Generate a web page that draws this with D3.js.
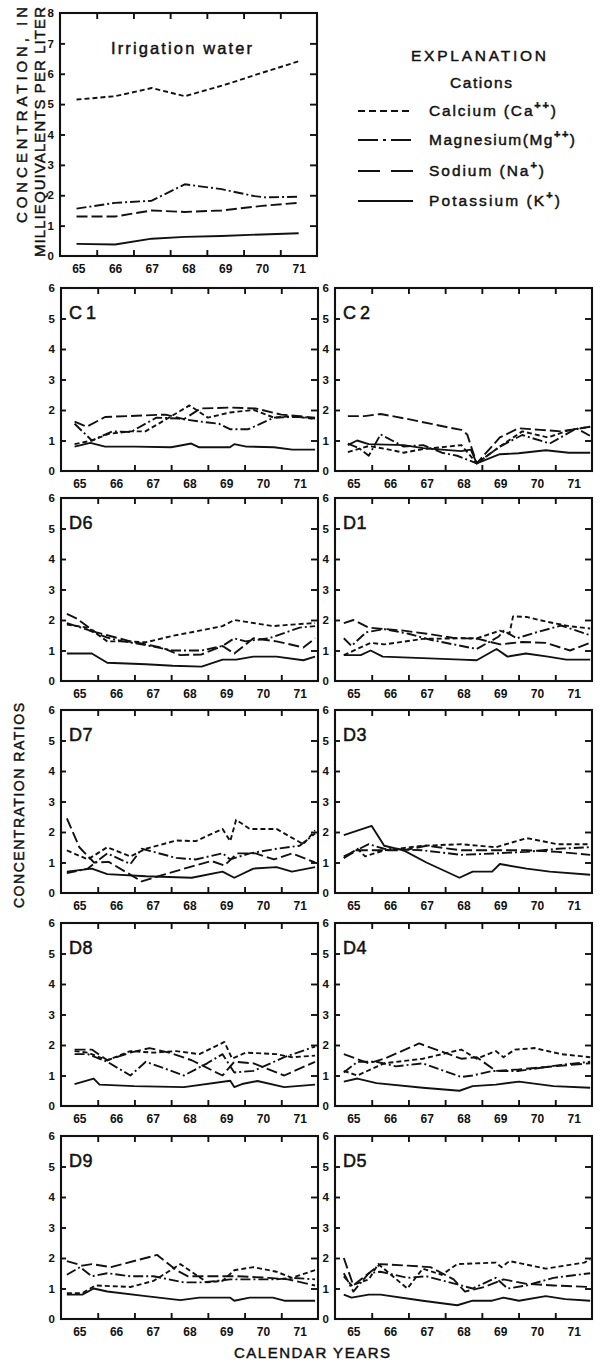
<!DOCTYPE html>
<html><head><meta charset="utf-8">
<script src="https://cdn.jsdelivr.net/npm/d3@7/dist/d3.min.js"></script>
<style>body{margin:0;background:#fff}svg{display:block}</style>
</head><body><svg id="c" width="600" height="1365"></svg>
<script>
// ---------------- DATA ----------------
const yearLabels = ["65","66","67","68","69","70","71"];
const cations = ["Calcium","Magnesium","Sodium","Potassium"];
const topTicks = [0,1,2,3,4,5,6,7,8];
const panelTicks = [0,1,2,3,4,5,6];
const panelNames = ["C1","C2","D6","D1","D7","D3","D8","D4","D9","D5"];

// Irrigation water (milliequivalents per liter)
const topCa = [[65.45,5.15],[66.5,5.26],[67.5,5.53],[68.4,5.26],[69.5,5.64],[70.5,6.03],[71.5,6.41]];
const topMg = [[65.45,1.56],[66.5,1.75],[67.5,1.82],[68.4,2.36],[69.4,2.2],[70.3,1.97],[70.6,1.93],[71.5,1.95]];
const topNa = [[65.45,1.3],[66.5,1.3],[67.5,1.5],[68.4,1.45],[69.4,1.5],[70.5,1.65],[71.5,1.75]];
const topK  = [[65.45,0.4],[66.5,0.38],[67.5,0.57],[68.4,0.63],[69.4,0.66],[70.5,0.71],[71.5,0.75]];

// Concentration ratios
const C1_Ca = [[65.37,0.88],[65.84,1.0],[66.3,1.22],[66.9,1.3],[67.3,1.3],[67.9,1.72],[68.5,2.15],[69.0,1.75],[69.6,1.92],[70.25,2.0],[70.8,1.75],[71.3,1.8],[71.92,1.7]];
const C1_Mg = [[65.37,1.55],[65.84,1.0],[66.4,1.3],[66.9,1.28],[67.6,1.75],[68.2,1.72],[68.8,1.62],[69.3,1.55],[69.6,1.37],[70.1,1.37],[70.8,1.75],[71.5,1.78],[71.92,1.72]];
const C1_Na = [[65.37,1.62],[65.7,1.45],[66.2,1.77],[67.2,1.82],[67.85,1.85],[68.35,1.7],[68.8,2.05],[69.6,2.08],[70.3,2.05],[71.0,1.85],[71.92,1.75]];
const C1_K  = [[65.37,0.8],[65.8,0.92],[66.2,0.8],[67.0,0.8],[68.0,0.78],[68.55,0.9],[68.75,0.78],[69.6,0.78],[69.72,0.88],[70.05,0.8],[70.8,0.78],[71.3,0.7],[71.92,0.7]];

const C2_Ca = [[65.35,0.62],[65.92,0.82],[66.4,0.72],[66.87,0.6],[67.4,0.72],[67.91,0.78],[68.44,0.85],[68.86,0.25],[69.49,0.8],[70.1,1.3],[70.8,1.1],[71.4,1.35],[71.95,1.45]];
const C2_Mg = [[65.35,0.9],[65.65,0.75],[65.92,0.5],[66.24,1.2],[66.87,0.8],[67.4,0.85],[67.91,0.6],[68.33,0.5],[68.86,0.25],[69.49,0.8],[70.1,1.18],[70.85,0.9],[71.58,1.4],[71.95,1.15]];
const C2_Na = [[65.35,1.8],[65.8,1.8],[66.24,1.87],[67.0,1.7],[68.0,1.45],[68.44,1.35],[68.6,1.2],[68.86,0.25],[69.49,1.1],[70.0,1.4],[70.6,1.35],[71.16,1.3],[71.95,1.45]];
const C2_K  = [[65.35,0.85],[65.6,1.0],[65.92,0.88],[66.87,0.85],[67.4,0.75],[67.91,0.7],[68.44,0.65],[68.7,0.7],[68.86,0.25],[69.49,0.55],[70.0,0.58],[70.74,0.68],[71.37,0.6],[71.95,0.6]];

const D6_Ca = [[65.16,1.85],[65.73,1.75],[66.26,1.3],[66.68,1.3],[67.31,1.27],[68.04,1.48],[68.56,1.6],[69.4,1.8],[69.72,2.0],[70.24,1.9],[70.77,1.8],[71.29,1.85],[71.92,1.9]];
const D6_Mg = [[65.16,1.9],[65.73,1.68],[66.26,1.42],[66.68,1.3],[67.31,1.18],[68.04,1.0],[68.83,1.0],[69.4,1.15],[69.72,1.4],[70.03,1.3],[70.66,1.4],[71.5,1.75],[71.92,1.8]];
const D6_Na = [[65.16,2.2],[65.42,2.05],[65.94,1.6],[66.26,1.5],[66.89,1.3],[67.73,1.1],[68.25,0.85],[68.83,0.87],[69.4,1.15],[69.72,0.9],[70.24,1.4],[70.87,1.3],[71.6,1.1],[71.92,1.4]];
const D6_K  = [[65.16,0.9],[65.84,0.9],[66.26,0.6],[67.31,0.55],[68.04,0.5],[68.83,0.47],[69.4,0.7],[69.77,0.7],[70.24,0.8],[70.87,0.8],[71.6,0.68],[71.92,0.8]];

const D1_Ca = [[65.24,0.85],[65.97,1.25],[66.34,1.2],[67.39,1.38],[68.44,1.4],[68.86,1.4],[69.49,1.65],[69.75,1.55],[69.85,2.12],[70.22,2.1],[70.74,1.95],[71.37,1.8],[71.95,1.72]];
const D1_Mg = [[65.24,1.4],[65.45,1.15],[65.85,1.6],[66.34,1.7],[67.0,1.55],[67.6,1.35],[68.86,1.05],[69.45,1.45],[69.6,1.65],[69.95,1.4],[70.5,1.6],[71.16,1.82],[71.95,1.5]];
const D1_Na = [[65.24,1.9],[65.5,2.0],[65.92,1.75],[66.87,1.65],[67.5,1.55],[68.2,1.42],[68.9,1.38],[69.5,1.2],[70.1,1.28],[70.74,1.25],[71.4,1.0],[71.95,1.25]];
const D1_K  = [[65.24,0.85],[65.7,0.85],[65.97,1.0],[66.3,0.8],[67.39,0.75],[68.44,0.7],[68.86,0.68],[69.4,1.05],[69.7,0.8],[70.2,0.9],[70.8,0.8],[71.3,0.7],[71.95,0.7]];

const D7_Ca = [[65.16,1.4],[65.73,1.1],[66.26,1.5],[66.89,1.2],[67.31,1.45],[68.14,1.72],[68.67,1.7],[69.4,2.1],[69.61,1.7],[69.77,2.4],[70.14,2.1],[70.87,2.1],[71.6,1.6],[71.92,2.05]];
const D7_Mg = [[65.16,0.65],[65.73,0.8],[66.26,1.3],[66.89,0.95],[67.2,1.45],[68.14,1.15],[68.67,1.1],[69.4,1.3],[69.61,1.1],[70.14,1.3],[70.87,1.45],[71.5,1.55],[71.92,1.95]];
const D7_Na = [[65.16,2.45],[65.5,1.5],[65.9,1.0],[66.3,1.02],[67.2,0.38],[67.8,0.6],[68.5,0.85],[69.1,1.05],[69.45,0.9],[69.8,1.3],[70.3,1.3],[70.8,1.1],[71.3,1.3],[71.92,1.0]];
const D7_K  = [[65.16,0.7],[65.84,0.8],[66.26,0.62],[67.31,0.55],[68.56,0.5],[69.4,0.7],[69.72,0.5],[70.24,0.8],[70.87,0.85],[71.29,0.7],[71.92,0.85]];

const D3_Ca = [[65.24,1.15],[65.61,1.45],[65.82,1.2],[66.34,1.4],[67.39,1.55],[68.44,1.6],[69.38,1.5],[70.22,1.8],[71.06,1.6],[71.95,1.6]];
const D3_Mg = [[65.24,1.2],[65.92,1.6],[66.34,1.45],[67.39,1.4],[68.44,1.25],[69.38,1.3],[70.22,1.35],[71.06,1.45],[71.95,1.5]];
const D3_Na = [[65.24,1.15],[65.61,1.4],[66.87,1.4],[67.49,1.55],[68.44,1.4],[69.38,1.4],[70.22,1.4],[71.06,1.35],[71.95,1.25]];
const D3_K  = [[65.24,1.9],[66.0,2.2],[66.34,1.55],[66.87,1.4],[67.49,1.0],[68.39,0.5],[68.75,0.7],[69.28,0.7],[69.49,0.95],[70.22,0.8],[70.85,0.7],[71.95,0.6]];

const D8_Ca = [[65.37,1.8],[65.73,1.75],[66.26,1.5],[66.89,1.8],[67.52,1.75],[68.14,1.8],[68.77,1.7],[69.45,2.1],[69.66,1.55],[70.03,1.75],[70.87,1.7],[71.29,1.6],[71.92,1.65]];
const D8_Mg = [[65.37,1.7],[65.73,1.7],[66.26,1.45],[66.89,1.0],[67.31,1.45],[68.35,1.0],[68.98,1.4],[69.4,1.7],[69.72,1.1],[70.24,1.15],[71.08,1.6],[71.92,1.95]];
const D8_Na = [[65.37,1.85],[65.84,1.85],[66.26,1.5],[66.89,1.75],[67.41,1.9],[67.94,1.75],[68.56,1.5],[69.4,1.0],[69.72,1.45],[70.24,1.4],[71.08,1.0],[71.92,1.45]];
const D8_K  = [[65.37,0.72],[65.89,0.9],[66.05,0.7],[66.99,0.65],[68.35,0.62],[69.61,0.83],[69.72,0.62],[69.93,0.72],[70.35,0.82],[71.08,0.62],[71.92,0.7]];

const D4_Ca = [[65.24,1.15],[65.61,1.0],[66.34,1.4],[67.39,1.55],[68.44,1.85],[68.86,1.55],[69.38,1.8],[69.59,1.6],[69.9,1.85],[70.43,1.9],[71.16,1.7],[71.95,1.6]];
const D4_Mg = [[65.24,1.1],[65.61,1.45],[66.13,1.45],[66.66,1.3],[67.39,1.4],[68.44,0.95],[68.75,1.0],[69.28,1.15],[70.01,1.15],[71.16,1.35],[71.95,1.45]];
const D4_Na = [[65.24,1.7],[65.92,1.4],[66.34,1.55],[67.29,2.05],[68.44,1.55],[68.86,1.6],[69.38,1.15],[70.01,1.2],[70.95,1.3],[71.95,1.4]];
const D4_K  = [[65.24,0.8],[65.61,0.9],[66.13,0.75],[67.39,0.6],[68.39,0.5],[68.75,0.65],[69.38,0.7],[70.01,0.8],[70.95,0.65],[71.95,0.6]];

const D9_Ca = [[65.16,0.85],[65.58,0.85],[65.94,1.1],[66.89,1.05],[67.52,1.25],[68.25,1.8],[68.98,1.2],[69.4,1.25],[69.72,1.6],[70.24,1.7],[70.87,1.55],[71.29,1.35],[71.92,1.6]];
const D9_Mg = [[65.16,1.45],[65.52,1.7],[65.84,1.4],[66.26,1.5],[66.89,1.4],[67.52,1.4],[68.35,1.2],[68.88,1.2],[69.61,1.3],[70.24,1.3],[70.87,1.3],[71.29,1.35],[71.92,1.3]];
const D9_Na = [[65.16,1.9],[65.58,1.75],[65.84,1.8],[66.36,1.7],[67.62,2.1],[68.14,1.6],[68.46,1.4],[69.82,1.4],[70.66,1.35],[71.18,1.3],[71.92,1.1]];
const D9_K  = [[65.16,0.8],[65.58,0.8],[65.89,1.0],[66.26,0.9],[67.31,0.75],[68.25,0.62],[68.77,0.7],[69.61,0.7],[69.72,0.6],[70.14,0.7],[70.77,0.7],[71.08,0.6],[71.92,0.6]];

const D5_Ca = [[65.24,1.4],[65.45,1.1],[65.92,1.3],[66.18,1.8],[66.97,1.0],[67.39,1.65],[67.91,1.45],[68.33,1.8],[69.38,1.85],[69.54,1.7],[69.75,1.9],[70.74,1.65],[71.79,1.85],[71.95,1.95]];
const D5_Mg = [[65.24,1.5],[65.5,0.9],[65.92,1.5],[66.24,1.55],[66.97,1.35],[67.49,1.4],[68.44,1.1],[68.75,1.0],[69.38,1.35],[69.7,1.0],[70.22,1.1],[70.95,1.35],[71.95,1.5]];
const D5_Na = [[65.24,2.0],[65.5,1.1],[65.92,1.5],[66.24,1.8],[66.97,1.75],[67.6,1.7],[68.23,1.3],[68.54,0.9],[69.07,1.05],[69.59,1.3],[70.22,1.15],[70.95,1.1],[71.95,1.05]];
const D5_K  = [[65.24,0.8],[65.45,0.7],[65.92,0.8],[66.24,0.8],[67.39,0.6],[68.33,0.45],[68.75,0.6],[69.28,0.6],[69.59,0.7],[70.01,0.6],[70.74,0.75],[71.27,0.65],[71.95,0.6]];

// table built from the arrays above
const panelSeries = {
  C1:[C1_Ca,C1_Mg,C1_Na,C1_K], C2:[C2_Ca,C2_Mg,C2_Na,C2_K],
  D6:[D6_Ca,D6_Mg,D6_Na,D6_K], D1:[D1_Ca,D1_Mg,D1_Na,D1_K],
  D7:[D7_Ca,D7_Mg,D7_Na,D7_K], D3:[D3_Ca,D3_Mg,D3_Na,D3_K],
  D8:[D8_Ca,D8_Mg,D8_Na,D8_K], D4:[D4_Ca,D4_Mg,D4_Na,D4_K],
  D9:[D9_Ca,D9_Mg,D9_Na,D9_K], D5:[D5_Ca,D5_Mg,D5_Na,D5_K]
};
const topSeries = [topCa, topMg, topNa, topK];

// ---------------- STYLE / LAYOUT ----------------
const FONT = "'Liberation Sans', Arial, sans-serif";
const INK = "#111";
const dashes = {Calcium:"5,3", Magnesium:"10,3,2,3", Sodium:"11,4", Potassium:null};
const legendDashes = {Calcium:"7,4", Magnesium:"20,5,3,5", Sodium:"22,11", Potassium:null};

const svg = d3.select("#c");
const g = svg.append("g");

function heavy(sel, w) { return sel.attr("stroke", INK).attr("stroke-width", w).attr("paint-order","stroke"); }

function drawPanel(x0, y0, w, h, ymax, ticksY, series, label) {
  const x = d3.scaleLinear().domain([65,72]).range([x0, x0+w]);
  const y = d3.scaleLinear().domain([0,ymax]).range([y0+h, y0]);
  const p = g.append("g");
  const line = d3.line().x(d=>x(d[0])).y(d=>y(d[1]));
  series.forEach((s,i)=>{
    p.append("path").datum(s).attr("d", line)
      .attr("fill","none").attr("stroke",INK).attr("stroke-width",1.9)
      .attr("stroke-linejoin","round")
      .attr("stroke-dasharray", dashes[cations[i]]);
  });
  const inner = [66,67,68,69,70,71];
  const ax = (a) => a.call(s=>s.select(".domain").remove())
      .call(s=>s.selectAll("line").attr("stroke",INK).attr("stroke-width",1.9));
  p.append("g").attr("transform",`translate(0,${y0+h})`)
    .call(d3.axisBottom(x).tickValues(inner).tickSize(-6).tickFormat("")).call(ax);
  p.append("g").attr("transform",`translate(0,${y0})`)
    .call(d3.axisTop(x).tickValues(inner).tickSize(-6).tickFormat("")).call(ax);
  p.append("g").attr("transform",`translate(${x0+w},0)`)
    .call(d3.axisRight(y).tickValues(ticksY.slice(1,-1)).tickSize(-7).tickFormat("")).call(ax);
  const left = p.append("g").attr("transform",`translate(${x0},0)`)
    .call(d3.axisLeft(y).tickValues(ticksY).tickSize(-5).tickPadding(6).tickFormat(d3.format("d"))).call(ax);
  left.selectAll("line").filter(d=>d===0||d===ymax).remove();
  left.selectAll("text").attr("font-family",FONT).attr("font-size",11.5).attr("font-weight","bold").attr("fill",INK);
  // year labels, centred in each year
  const lab = p.append("g").attr("transform",`translate(0,${y0+h})`)
    .call(d3.axisBottom(x).tickValues(yearLabels.map(v=>+v+0.5)).tickSize(0).tickPadding(8)
      .tickFormat((d,i)=>yearLabels[i])).call(ax);
  lab.selectAll("text").attr("font-family",FONT).attr("font-size",12).attr("font-weight","bold").attr("fill",INK);
  // frame
  p.append("rect").attr("x",x0).attr("y",y0).attr("width",w).attr("height",h)
    .attr("fill","none").attr("stroke",INK).attr("stroke-width",2.1);
  if (label) {
    heavy(p.append("text").attr("x",x0+8).attr("y",y0+31).text(label)
      .attr("font-family",FONT).attr("font-size",18).attr("fill",INK)
      .attr("letter-spacing", label[0]==="C" ? 4 : 0.5), 0.5);
  }
  return {x,y};
}

// top panel
drawPanel(60, 13, 257, 243, 8, topTicks, topSeries, null);

// small panels
const colX = [61, 335], rowY = [288, 498, 710, 923, 1136];
panelNames.forEach((n,i)=>{
  drawPanel(colX[i%2], rowY[Math.floor(i/2)], 257, 183, 6, panelTicks, panelSeries[n], n);
});

// text helpers
const T = (x,y,txt,size,len,anchor) => {
  const t = g.append("text").attr("x",x).attr("y",y).text(txt)
    .attr("font-family",FONT).attr("font-size",size).attr("fill",INK);
  if (len) t.attr("textLength",len).attr("lengthAdjust","spacing");
  if (anchor) t.attr("text-anchor",anchor);
  return heavy(t, 0.45);
};
T(111,54,"Irrigation water",16.5,141);
T(411,61,"EXPLANATION",15.5,135);
T(450,88,"Cations",15.5,62);

// legend
const legendLabels = [["Calcium (Ca","++",")"],["Magnesium(Mg","++",")"],["Sodium (Na","+",")"],["Potassium (K","+",")"]];
const legendY = [116, 145, 176, 206];
const legendLen = [127, 146, 115, 131];
cations.forEach((c,i)=>{
  g.append("line").attr("x1",358).attr("x2",413).attr("y1",legendY[i]-5).attr("y2",legendY[i]-5)
    .attr("stroke",INK).attr("stroke-width",1.9).attr("stroke-dasharray",legendDashes[c]);
  const t = heavy(g.append("text").attr("x",429).attr("y",legendY[i])
    .attr("font-family",FONT).attr("font-size",15.5).attr("fill",INK)
    .attr("textLength",legendLen[i]).attr("lengthAdjust","spacing"), 0.45);
  t.append("tspan").text(legendLabels[i][0]);
  t.append("tspan").text(legendLabels[i][1]).attr("dy",-7).attr("font-size",11).attr("font-weight","bold");
  t.append("tspan").text(legendLabels[i][2]).attr("dy",7);
});

// axis titles
const R = (x,y,txt,size,len) => heavy(g.append("text")
  .attr("transform",`translate(${x},${y}) rotate(-90)`).text(txt)
  .attr("font-family",FONT).attr("font-size",size).attr("fill",INK)
  .attr("textLength",len).attr("lengthAdjust","spacing"), 0.45);
R(27,223,"CONCENTRATION, IN",15,216);
R(45,257,"MILLIEQUIVALENTS PER LITER",15,250);
R(24,908,"CONCENTRATION RATIOS",14,205);
T(234,1358,"CALENDAR YEARS",15,156);
</script></body></html>
